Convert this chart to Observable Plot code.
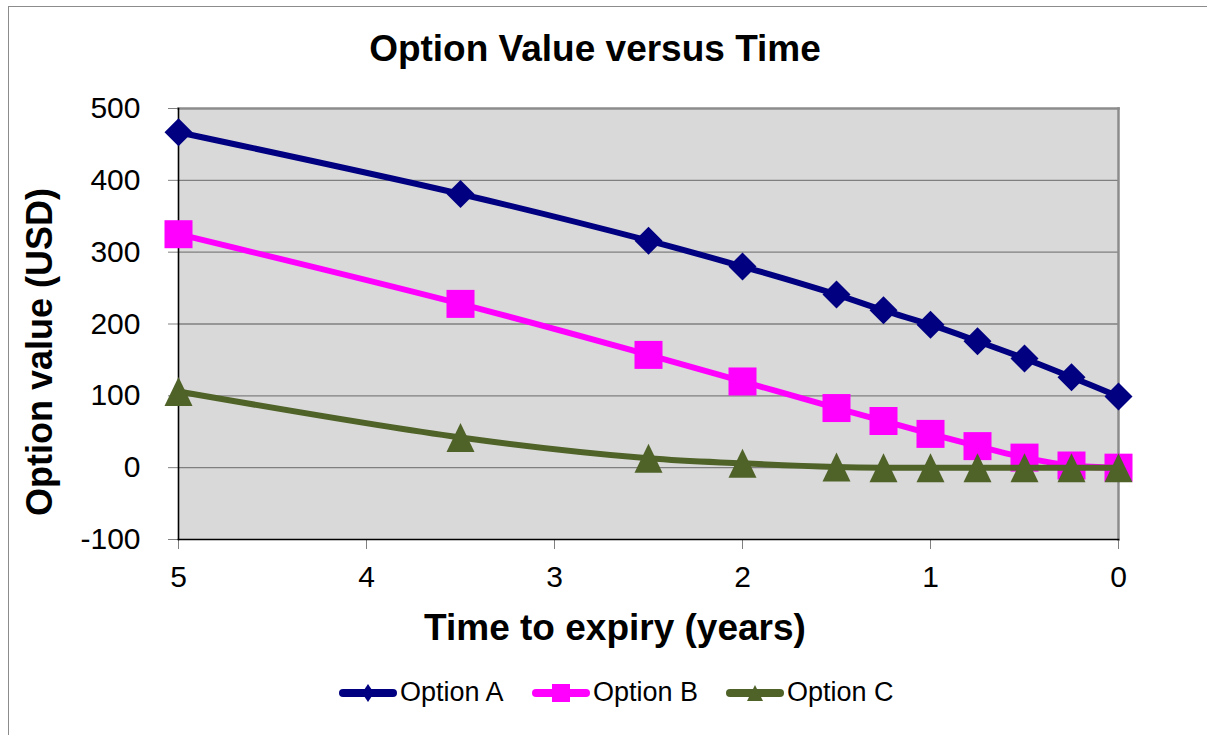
<!DOCTYPE html>
<html>
<head>
<meta charset="utf-8">
<script src="https://cdn.jsdelivr.net/npm/d3@7"></script>
<script src="https://cdn.jsdelivr.net/npm/@observablehq/plot@0.6"></script>
<style>
  body { margin: 0; background: #fff; font-family: "Liberation Sans", Arial, sans-serif; }
  #wrap { position: relative; width: 1207px; height: 735px; overflow: hidden; }
  #border { position: absolute; left: 8px; top: 6px; width: 1400px; height: 900px;
            border-left: 1.5px solid #8c8c8c; border-top: 1.5px solid #8c8c8c; }
  #chart { position: absolute; left: 0; top: 0; }
  .ttl { position: absolute; font-weight: bold; color: #000; white-space: nowrap; text-align: center; }
  .leg { position: absolute; font-size: 27px; line-height: 27px; color: #000; white-space: nowrap; }
  .sw { position: absolute; }
</style>
</head>
<body>
<div id="wrap">
  <div id="border"></div>
  <div id="chart"></div>
  <div id="title" class="ttl"></div>
  <div id="xtitle" class="ttl"></div>
  <div id="ytitle" class="ttl"></div>
  <div id="legend"></div>
</div>
<script>
// ---- data ----
const chartTitle = "Option Value versus Time";
const xLabel = "Time to expiry (years)";
const yLabel = "Option value (USD)";
const times   = [5, 3.5, 2.5, 2, 1.5, 1.25, 1, 0.75, 0.5, 0.25, 0];
const optionA = [467, 381, 316, 280, 241, 219, 199, 176, 152, 126, 99];
const optionB = [325, 228, 157, 120, 83, 65, 47, 30, 14, 3, 0];
const optionC = [106, 42, 13, 6, 1, 0, 0, 0, 0, 0, 0];
const seriesNames = ["Option A", "Option B", "Option C"];
const seriesColors = ["#000080", "#FF00FF", "#4F6228"];
const xTicks = [5, 4, 3, 2, 1, 0];
const yTicks = [-100, 0, 100, 200, 300, 400, 500];

// ---- symbols (fixed-size marker shapes) ----
const diamond = { draw(ctx) { const h = 14; ctx.moveTo(0, -h); ctx.lineTo(h, 0); ctx.lineTo(0, h); ctx.lineTo(-h, 0); ctx.closePath(); } };
const square  = { draw(ctx) { const h = 14; ctx.moveTo(-h, -h); ctx.lineTo(h, -h); ctx.lineTo(h, h); ctx.lineTo(-h, h); ctx.closePath(); } };
const triangle = { draw(ctx) { const w = 14, h = 14.5; ctx.moveTo(0, -h); ctx.lineTo(w, h); ctx.lineTo(-w, h); ctx.closePath(); } };
const symbols = [diamond, square, triangle];

const valuesBySeries = [optionA, optionB, optionC];
const rows = valuesBySeries.map((vals, k) => times.map((t, i) => ({ t, v: vals[i], series: seriesNames[k] })));

const marks = [
  Plot.frame({ fill: "#D9D9D9", stroke: null }),
  Plot.gridY(yTicks.filter(d => d > -100 && d < 500), { stroke: "#7f7f7f", strokeOpacity: 1, strokeWidth: 1.3 }),
  Plot.frame({ anchor: "top", stroke: "#8c8c8c", strokeWidth: 2.5 }),
  Plot.frame({ anchor: "right", stroke: "#8c8c8c", strokeWidth: 2.5 }),
  Plot.axisY(yTicks, { tickSize: 10, tickPadding: 28, stroke: "#808080", fill: "#000", fontSize: 30, tickFormat: d => String(d), label: null }),
  Plot.axisX(xTicks, { tickSize: 10, tickPadding: 16, stroke: "#808080", fill: "#000", fontSize: 30, tickFormat: d => String(d), label: null }),
  Plot.frame({ anchor: "left", stroke: "#000", strokeWidth: 1.6 }),
  Plot.frame({ anchor: "bottom", stroke: "#000", strokeWidth: 1.6 })
];
rows.forEach((data, k) => {
  marks.push(Plot.line(data, { x: "t", y: "v", stroke: seriesColors[k], strokeWidth: 6, curve: "catmull-rom" }));
  marks.push(Plot.dot(data, { x: "t", y: "v", symbol: symbols[k], fill: seriesColors[k], stroke: null }));
});

const chart = Plot.plot({
  width: 1207,
  height: 735,
  marginLeft: 178,
  marginRight: 89,
  marginTop: 108,
  marginBottom: 196,
  style: { fontFamily: "Liberation Sans, Arial, sans-serif", background: "transparent", overflow: "visible" },
  x: { domain: [5, 0], axis: null },
  y: { domain: [-100, 500], axis: null },
  marks
});
document.getElementById("chart").appendChild(chart);

// ---- titles ----
function place(el, text, size, cx, baseline) {
  el.textContent = text;
  el.style.fontSize = size + "px";
  el.style.lineHeight = size + "px";
  el.style.width = "800px";
  el.style.left = (cx - 400) + "px";
  el.style.top = (baseline - 0.8465 * size) + "px";
}
place(document.getElementById("title"), chartTitle, 37, 595, 61);
place(document.getElementById("xtitle"), xLabel, 37, 615, 640);
const yt = document.getElementById("ytitle");
const ys = 36;
yt.textContent = yLabel;
yt.style.fontSize = ys + "px";
yt.style.lineHeight = ys + "px";
yt.style.width = "500px";
const ycx = 52.7 - 0.3465 * ys, ycy = 352;
yt.style.left = (ycx - 250) + "px";
yt.style.top = (ycy - ys / 2) + "px";
yt.style.transform = "rotate(-90deg)";
yt.style.transformOrigin = "50% 50%";

// ---- legend ----
const legend = document.getElementById("legend");
const legSw = [336, 529, 723];
const legTx = [400, 593, 787];
const legMarker = [
  '<path d="M32,1 L38,10 L32,19 L26,10 Z"/>',
  '<rect x="23" y="1" width="18" height="18"/>',
  '<path d="M32,2 L40,18 L24,18 Z"/>'
];
seriesNames.forEach((name, k) => {
  const sw = document.createElement("div");
  sw.className = "sw";
  sw.style.left = legSw[k] + "px";
  sw.style.top = (693 - 10) + "px";
  sw.innerHTML = `<svg width="64" height="20" viewBox="0 0 64 20"><line x1="7" y1="10" x2="57" y2="10" stroke="${seriesColors[k]}" stroke-width="8" stroke-linecap="round"/><g fill="${seriesColors[k]}">${legMarker[k]}</g></svg>`;
  legend.appendChild(sw);
  const tx = document.createElement("div");
  tx.className = "leg";
  tx.textContent = name;
  tx.style.left = legTx[k] + "px";
  tx.style.top = (701.5 - 0.8465 * 27) + "px";
  legend.appendChild(tx);
});
</script>
</body>
</html>
